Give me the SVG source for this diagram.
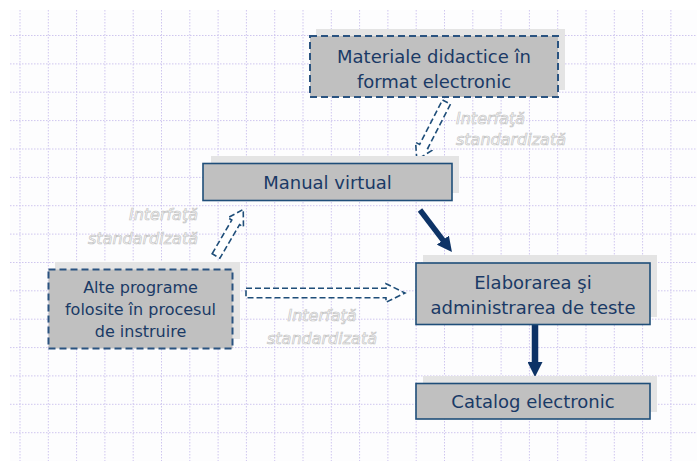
<svg xmlns="http://www.w3.org/2000/svg" width="697" height="461" viewBox="0 0 697 461">
<style>
.grid{fill:none;stroke:#cfc6ef;stroke-width:1;stroke-dasharray:1.5 1.5}
.shadow{fill:#e4e4e4;stroke:none}
.box{fill:#c0c0c0;stroke:#1f4e79;stroke-width:1.6}
.dbox{fill:#c0c0c0;stroke:#2a5380;stroke-width:2;stroke-dasharray:7 4}
.t{font-family:"DejaVu Sans",Verdana,sans-serif;font-size:18px;fill:#1a3a66;text-anchor:middle}
.lbl{font-family:"DejaVu Sans",Verdana,sans-serif;font-size:16px;font-style:italic;fill:#ffffff;stroke:#c4c4c4;stroke-width:0.7}
.hollow{fill:#ffffff;stroke:#1f4e79;stroke-width:1.6;stroke-dasharray:6 3;stroke-linejoin:miter}
.solid{stroke:#0d3366;fill:none}
</style>
<defs>
<marker id="head" markerUnits="userSpaceOnUse" viewBox="0 0 15 15" refX="1" refY="7.5" markerWidth="15" markerHeight="15" orient="auto">
<path d="M0,0 L15,7.5 L0,15 Z" fill="#0d3366"/>
</marker>
</defs>
<rect x="0" y="0" width="697" height="461" fill="#ffffff"/>
<rect x="10" y="10" width="687" height="451" fill="#fdfdfe"/>
<g id="grid">
<path class="grid" d="M20,10V461 M48.3,10V461 M76.6,10V461 M104.9,10V461 M133.2,10V461 M161.5,10V461 M189.8,10V461 M218.1,10V461 M246.4,10V461 M274.7,10V461 M303,10V461 M331.3,10V461 M359.6,10V461 M387.9,10V461 M416.2,10V461 M444.5,10V461 M472.8,10V461 M501.1,10V461 M529.4,10V461 M557.7,10V461 M586,10V461 M614.3,10V461 M642.6,10V461 M670.9,10V461"/>
<path class="grid" d="M10,35.5H697 M10,63.9H697 M10,92.2H697 M10,120.6H697 M10,149H697 M10,177.4H697 M10,205.7H697 M10,234.1H697 M10,262.5H697 M10,290.8H697 M10,319.2H697 M10,347.6H697 M10,375.9H697 M10,404.3H697 M10,432.7H697"/>
</g>
<g id="connectors">
<path class="hollow" transform="translate(446.5,102) rotate(117.2)" d="M0,-4.5 L50,-4.5 L50,-9 L65,0 L50,9 L50,4.5 L0,4.5 Z"/>
<path class="hollow" transform="translate(216,256) rotate(-59.7)" d="M0,-4.5 L39,-4.5 L39,-9 L54,0 L39,9 L39,4.5 L0,4.5 Z"/>
<path class="hollow" transform="translate(246,293)" d="M0,-4.7 L140,-4.7 L140,-9.3 L159,0 L140,9.3 L140,4.7 L0,4.7 Z"/>
<line class="solid" x1="420" y1="210" x2="443.5" y2="240.9" stroke-width="5.5" marker-end="url(#head)"/>
<line class="solid" x1="535" y1="325" x2="535" y2="363" stroke-width="6.5" marker-end="url(#head)"/>
<text class="lbl" x="456" y="124">Interfaţă</text>
<text class="lbl" x="456" y="145">standardizată</text>
<text class="lbl" x="198" y="220" text-anchor="end">Interfaţă</text>
<text class="lbl" x="198" y="244" text-anchor="end">standardizată</text>
<text class="lbl" x="322" y="321" text-anchor="middle">Interfaţă</text>
<text class="lbl" x="322" y="344" text-anchor="middle">standardizată</text>
</g>
<g id="materiale">
<rect class="shadow" x="316" y="29" width="249" height="61"/>
<rect class="dbox" x="310" y="36" width="248" height="61"/>
<text class="t" x="434" y="63">Materiale didactice în</text>
<text class="t" x="434" y="88">format electronic</text>
</g>
<g id="manual">
<rect class="shadow" x="211" y="156" width="248" height="37"/>
<rect class="box" x="203" y="163.5" width="249" height="37"/>
<text class="t" x="327.5" y="189">Manual virtual</text>
</g>
<g id="alte">
<rect class="shadow" x="55" y="262" width="185" height="77"/>
<rect class="dbox" x="48.5" y="269.5" width="184" height="79"/>
<text class="t" x="140.5" y="293" style="font-size:16px">Alte programe</text>
<text class="t" x="140.5" y="315" style="font-size:16px">folosite în procesul</text>
<text class="t" x="140.5" y="337" style="font-size:16px">de instruire</text>
</g>
<g id="elaborarea">
<rect class="shadow" x="423" y="255" width="234" height="62"/>
<rect class="box" x="416" y="263" width="234" height="61.5"/>
<text class="t" x="533" y="288.5">Elaborarea şi</text>
<text class="t" x="533" y="314">administrarea de teste</text>
</g>
<g id="catalog">
<rect class="shadow" x="423" y="376" width="234" height="36"/>
<rect class="box" x="416" y="383.5" width="234" height="35.5"/>
<text class="t" x="533" y="408">Catalog electronic</text>
</g>
</svg>
